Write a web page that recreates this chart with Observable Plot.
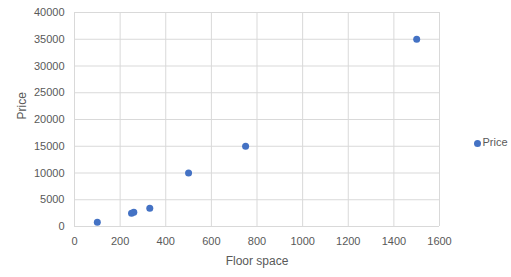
<!DOCTYPE html>
<html>
<head>
<meta charset="utf-8">
<script src="https://cdn.jsdelivr.net/npm/d3@7"></script>
<script src="https://cdn.jsdelivr.net/npm/@observablehq/plot@0.6"></script>
<style>
  html, body { margin: 0; padding: 0; background: #fff; }
  #chart svg { display: block; }
</style>
</head>
<body>
<div id="chart"></div>
<script>
const floorSpace = [100, 250, 260, 330, 500, 750, 1500];
const price = [800, 2500, 2650, 3400, 10000, 15000, 35000];
const xTicks = [0, 200, 400, 600, 800, 1000, 1200, 1400, 1600];
const yTicks = [0, 5000, 10000, 15000, 20000, 25000, 30000, 35000, 40000];
const seriesName = "Price";
const xTitle = "Floor space";
const yTitle = "Price";

const data = floorSpace.map((x, i) => ({x, y: price[i]}));
const blue = "#4472C4";
const textColor = "#595959";

const chart = Plot.plot({
  width: 511,
  height: 277,
  marginLeft: 74,
  marginRight: 72,
  marginTop: 12,
  marginBottom: 51,
  style: {fontFamily: "Liberation Sans, Arial, sans-serif", fontSize: "11px", color: textColor, background: "#fff"},
  x: {domain: [0, 1600]},
  y: {domain: [0, 40000]},
  marks: [
    Plot.gridX(xTicks, {stroke: "#d9d9d9", strokeOpacity: 1}),
    Plot.gridY(yTicks, {stroke: "#d9d9d9", strokeOpacity: 1}),
    Plot.axisX(xTicks, {tickSize: 0, tickPadding: 11, tickFormat: d => String(d), fill: textColor, fontSize: 11, label: null}),
    Plot.axisY(yTicks, {tickSize: 0, tickPadding: 10, tickFormat: d => String(d), fill: textColor, fontSize: 11, label: null}),
    Plot.text([xTitle], {frameAnchor: "bottom", dy: 38, text: d => d, fill: textColor, fontSize: 12}),
    Plot.text([yTitle], {frameAnchor: "left", dx: -52, rotate: -90, text: d => d, fill: textColor, fontSize: 12}),
    Plot.dot(data, {x: "x", y: "y", r: 3.5, fill: blue, stroke: "none"}),
    Plot.dot([seriesName], {frameAnchor: "right", dx: 38, dy: 24, r: 3.5, fill: blue, stroke: "none"}),
    Plot.text([seriesName], {frameAnchor: "right", dx: 43, dy: 23, text: d => d, textAnchor: "start", fill: textColor, fontSize: 11})
  ]
});
document.getElementById("chart").appendChild(chart);
</script>
</body>
</html>
